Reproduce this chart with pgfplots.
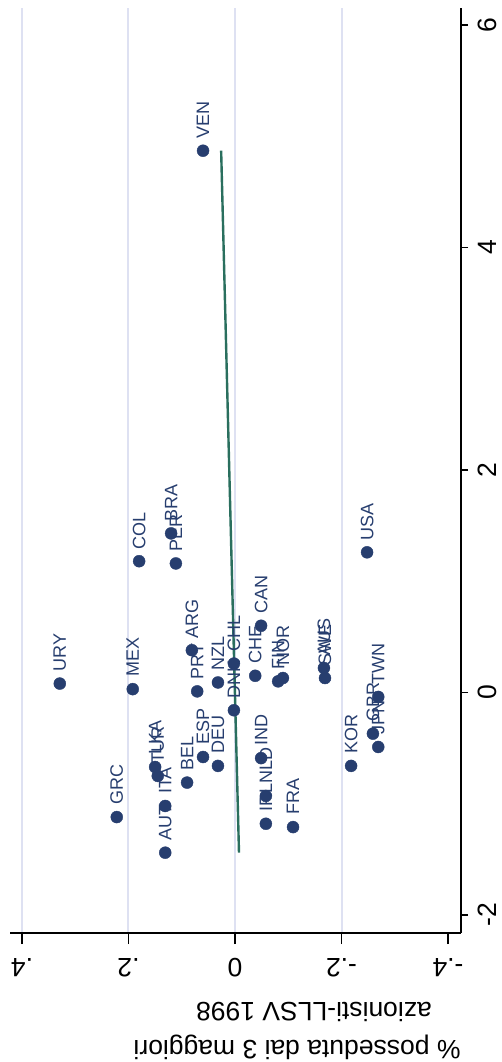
\documentclass[border=0pt]{standalone}
\usepackage{pgfplots}
\usepackage{pgfplotstable}
\pgfplotsset{compat=1.18}
\usepackage{fontspec}
\setmainfont{Liberation Sans}
\definecolor{mk}{RGB}{39,62,111}
\definecolor{fitc}{RGB}{42,111,94}
\definecolor{gridc}{RGB}{222,225,242}
\pgfplotstableread{
h u lab
-0.060 4.87 VEN
-0.329 0.08 URY
-0.192 0.03 MEX
-0.222 -1.12 GRC
-0.131 -1.44 AUT
-0.131 -1.02 ITA
-0.150 -0.67 LKA
-0.145 -0.75 TUR
-0.090 -0.81 BEL
-0.060 -0.58 ESP
-0.032 -0.66 DEU
-0.071 0.01 PRT
-0.081 0.38 ARG
-0.032 0.09 NZL
-0.002 -0.16 DNK
-0.002 0.26 CHL
0.038 0.15 CHE
0.049 0.60 CAN
0.049 -0.59 IND
0.058 -0.93 NLD
0.058 -1.18 IRL
0.109 -1.21 FRA
0.081 0.10 FIN
0.090 0.13 NOR
0.167 0.22 AUS
0.169 0.13 SWE
0.218 -0.66 KOR
0.259 -0.37 GBR
0.269 -0.49 JPN
0.269 -0.04 TWN
0.248 1.26 USA
-0.180 1.18 COL
-0.111 1.16 PER
-0.120 1.43 BRA
}\pts
\begin{document}
\begin{tikzpicture}
\useasboundingbox (0,0) rectangle (501pt,1062pt);
\begin{axis}[
 at={(10pt,129pt)}, anchor=south west,
 width=451pt, height=925pt, scale only axis,
 xmin=-0.4225, xmax=0.4244, ymin=-2.162, ymax=6.153,
 axis x line*=bottom, axis y line*=right,
 axis line style={black, line width=1.2pt, -},
 xtick={-0.4,-0.2,0,0.2}, xticklabels={.4,.2,0,-.2},
 extra x ticks={0.4}, extra x tick labels={-.4}, extra x tick style={grid=none},
 xmajorgrids, grid style={gridc, line width=2pt},
 ytick={-2,0,2,4,6}, yticklabels={-2,0,2,4,6},
 tick align=outside, tick style={black, line width=1.2pt},
 xtick style={/pgfplots/major tick length=11pt},
 ytick style={/pgfplots/major tick length=7pt},
 xticklabel shift=21pt, yticklabel shift=13pt,
 xticklabel style={rotate=180, anchor=south, inner sep=0pt, font=\fontsize{26.5}{30}\selectfont},
 yticklabel style={rotate=90, anchor=north, inner sep=0pt, font=\fontsize{26.5}{30}\selectfont},
 clip=false,
]
\addplot[only marks, mark=*, mark size=6pt, mk, mark options={draw=mk, fill=mk},
  point meta=explicit symbolic,
  nodes near coords,
  every node near coord/.append style={rotate=90, anchor=west, inner xsep=12pt, inner ysep=0pt, text=mk, font=\fontsize{18}{20}\selectfont}]
  table[x=h, y=u, meta=lab] {\pts};
\addplot[fitc, line width=2.4pt, no marks] coordinates {(0.0075,-1.44) (-0.026,4.87)};
\end{axis}
\node[rotate=180, anchor=base, font=\fontsize{26.5}{30}\selectfont] at (297pt,22pt) {\% posseduta dai 3 maggiori};
\node[rotate=180, anchor=base, font=\fontsize{26.5}{30}\selectfont] at (314pt,59pt) {azionisti-LLSV 1998};
\end{tikzpicture}
\end{document}
